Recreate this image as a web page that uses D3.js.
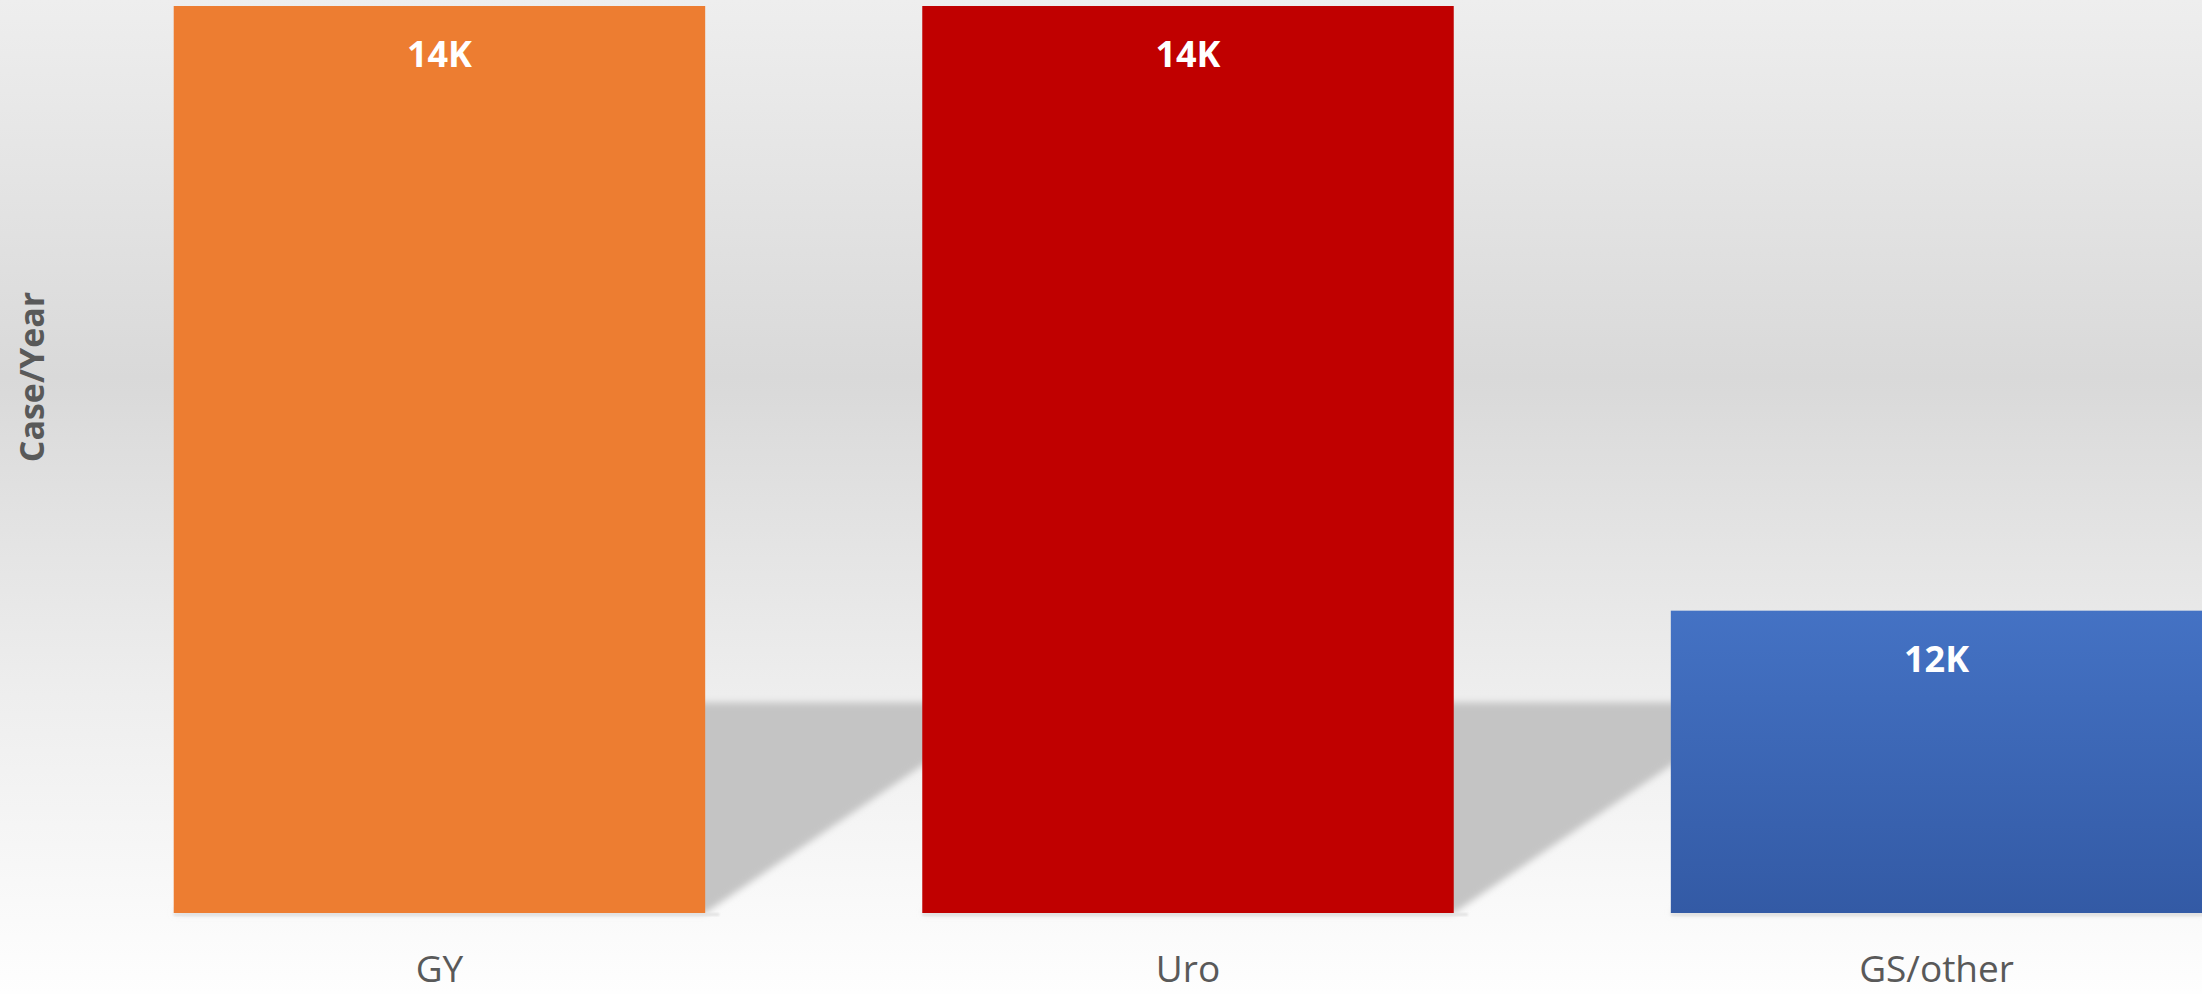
<!DOCTYPE html>
<html>
  <head>
    <title>Case/Year by specialty</title>
    <script src="https://d3js.org/d3.v7.min.js"></script>
    <style>
      html, body { margin: 0; padding: 0; overflow: hidden; }
    </style>
  </head>
  <body>
    <div id="chart"></div>
    <script>
      // data
      var categories = ["GY", "Uro", "GS/other"];
      var cases = [14000, 14000, 12000];
      var valueLabels = ["14K", "14K", "12K"];
      var axisTitle = "Case/Year";

      var W = 2202, H = 994;
      var plotTop = 6, plotBottom = 913;

      var svg = d3.select("#chart")
        .append("svg")
        .attr("width", W)
        .attr("height", H);

      var defs = svg.append("defs");

      // background: light top, gray middle, almost white at the bottom
      var bg = defs.append("linearGradient")
        .attr("id", "bg").attr("x1", 0).attr("y1", 0).attr("x2", 0).attr("y2", 1);
      bg.append("stop").attr("offset", "0%").attr("stop-color", "#eeeeee");
      bg.append("stop").attr("offset", "38%").attr("stop-color", "#d9d9d9");
      bg.append("stop").attr("offset", "70%").attr("stop-color", "#eeeeee");
      bg.append("stop").attr("offset", "100%").attr("stop-color", "#fefefe");

      var blue = defs.append("linearGradient")
        .attr("id", "blueBar").attr("x1", 0).attr("y1", 0).attr("x2", 0).attr("y2", 1);
      blue.append("stop").attr("offset", "0%").attr("stop-color", "#4472c4");
      blue.append("stop").attr("offset", "100%").attr("stop-color", "#335aa5");

      defs.append("filter").attr("id", "soft")
        .attr("x", "-10%").attr("y", "-10%").attr("width", "120%").attr("height", "120%")
        .append("feGaussianBlur").attr("stdDeviation", 3.5);

      defs.append("filter").attr("id", "softLine")
        .append("feGaussianBlur").attr("stdDeviation", 1);

      svg.append("rect")
        .attr("width", W).attr("height", H)
        .attr("fill", "url(#bg)");

      var x = d3.scaleBand()
        .domain(categories)
        .range([24, 2352])
        .paddingInner(0.29)
        .paddingOuter(0.2);

      var y = d3.scaleLinear()
        .domain([11000, 14000])
        .range([plotBottom, plotTop]);

      var fills = ["#ed7d31", "#c00000", "url(#blueBar)"];

      var rows = categories.map(function(c, i) {
        return { cat: c, value: cases[i], label: valueLabels[i], fill: fills[i] };
      });

      // perspective shadow thrown back to the right of each bar
      svg.selectAll("path.shadow")
        .data(rows)
        .enter()
        .append("path")
        .attr("class", "shadow")
        .attr("fill", "#c4c4c4")
        .attr("filter", "url(#soft)")
        .attr("d", function(d) {
          var x0 = x(d.cat), x1 = x0 + x.bandwidth();
          var sh = (plotBottom - y(d.value)) * 0.232;
          var sx = sh / 0.68;
          return "M" + x0 + "," + plotBottom +
            "L" + x1 + "," + plotBottom +
            "L" + (x1 + sx) + "," + (plotBottom - sh) +
            "L" + (x0 + sx) + "," + (plotBottom - sh) + "Z";
        });

      // faint ground line under each bar
      svg.selectAll("rect.ground")
        .data(rows)
        .enter()
        .append("rect")
        .attr("class", "ground")
        .attr("x", function(d) { return x(d.cat); })
        .attr("y", plotBottom)
        .attr("width", x.bandwidth() + 14)
        .attr("height", 3)
        .attr("fill", "#e2e2e2")
        .attr("filter", "url(#softLine)");

      svg.selectAll("rect.bar")
        .data(rows)
        .enter()
        .append("rect")
        .attr("class", "bar")
        .attr("x", function(d) { return x(d.cat); })
        .attr("y", function(d) { return y(d.value); })
        .attr("width", x.bandwidth())
        .attr("height", function(d) { return plotBottom - y(d.value); })
        .attr("fill", function(d) { return d.fill; });

      svg.selectAll("text.value")
        .data(rows)
        .enter()
        .append("text")
        .attr("class", "value")
        .text(function(d) { return d.label; })
        .attr("x", function(d) { return x(d.cat) + x.bandwidth() / 2; })
        .attr("y", function(d) { return y(d.value) + 61; })
        .attr("text-anchor", "middle")
        .attr("font-family", "'Open Sans', 'Noto Sans', sans-serif")
        .attr("font-weight", "bold")
        .attr("font-size", "36px")
        .style("fill", "#ffffff");

      // category axis, no line, no ticks
      var xAxis = svg.append("g")
        .attr("transform", "translate(0," + plotBottom + ")")
        .call(d3.axisBottom(x).tickSize(0).tickPadding(0));
      xAxis.select(".domain").remove();
      xAxis.selectAll("text")
        .attr("y", 69)
        .attr("dy", 0)
        .attr("font-family", "'Open Sans', 'Noto Sans', sans-serif")
        .attr("font-size", "37px")
        .attr("fill", "#595959");

      svg.append("text")
        .text(axisTitle)
        .attr("transform", "translate(44,377) rotate(-90)")
        .attr("text-anchor", "middle")
        .attr("font-family", "'Open Sans', 'Noto Sans', sans-serif")
        .attr("font-weight", "bold")
        .attr("font-size", "34px")
        .attr("fill", "#595959");
    </script>
  </body>
</html>
